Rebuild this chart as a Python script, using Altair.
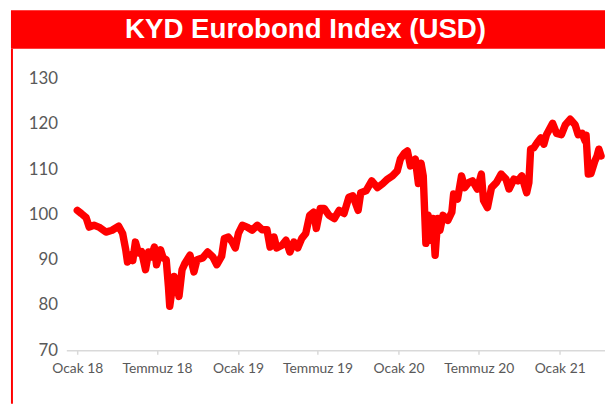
import altair as alt
import pandas as pd

# ---- data ----
dates = [
    "2018-01-01", "2018-01-10", "2018-01-21", "2018-01-28", "2018-02-08", "2018-02-19",
    "2018-03-07", "2018-03-21", "2018-04-05", "2018-04-14", "2018-04-21", "2018-04-25",
    "2018-05-02", "2018-05-07", "2018-05-13", "2018-05-20", "2018-05-27", "2018-06-05",
    "2018-06-12", "2018-06-18", "2018-06-25", "2018-06-30", "2018-07-09", "2018-07-15",
    "2018-07-22", "2018-07-27", "2018-07-30", "2018-08-05", "2018-08-09", "2018-08-13",
    "2018-08-20", "2018-08-27", "2018-09-03", "2018-09-14", "2018-09-23", "2018-09-30",
    "2018-10-13", "2018-10-24", "2018-11-05", "2018-11-14", "2018-11-25", "2018-12-01",
    "2018-12-10", "2018-12-19", "2018-12-26", "2019-01-02", "2019-01-11", "2019-01-22",
    "2019-02-02", "2019-02-14", "2019-02-25", "2019-03-08", "2019-03-15", "2019-03-24",
    "2019-03-30", "2019-04-11", "2019-04-20", "2019-04-29", "2019-05-08", "2019-05-17",
    "2019-05-26", "2019-06-04", "2019-06-13", "2019-06-22", "2019-06-28", "2019-07-07",
    "2019-07-16", "2019-07-27", "2019-08-08", "2019-08-19", "2019-08-30", "2019-09-10",
    "2019-09-19", "2019-10-01", "2019-10-07", "2019-10-19", "2019-11-01", "2019-11-14",
    "2019-11-26", "2019-12-07", "2019-12-18", "2019-12-29", "2020-01-05", "2020-01-14",
    "2020-01-21", "2020-01-28", "2020-02-03", "2020-02-08", "2020-02-15", "2020-02-21",
    "2020-02-26", "2020-03-03", "2020-03-08", "2020-03-15", "2020-03-19", "2020-03-24",
    "2020-03-30", "2020-04-04", "2020-04-11", "2020-04-22", "2020-05-01", "2020-05-05",
    "2020-05-14", "2020-05-23", "2020-05-30", "2020-06-08", "2020-06-17", "2020-06-28",
    "2020-07-07", "2020-07-12", "2020-07-21", "2020-07-30", "2020-08-10", "2020-08-21",
    "2020-09-01", "2020-09-08", "2020-09-19", "2020-09-28", "2020-10-07", "2020-10-18",
    "2020-10-23", "2020-10-27", "2020-11-03", "2020-11-10", "2020-11-19", "2020-11-26",
    "2020-12-02", "2020-12-16", "2020-12-25", "2021-01-05", "2021-01-14", "2021-01-25",
    "2021-02-05", "2021-02-12", "2021-02-21", "2021-02-28", "2021-03-02", "2021-03-07",
    "2021-03-13", "2021-03-22", "2021-03-27", "2021-03-31", "2021-04-05",
]
values = [
    100.9, 100.2, 99.3, 97.2, 97.6, 97.2,
    96.1, 96.5, 97.4, 95.8, 92.2, 89.5,
    91.0, 89.8, 93.9, 91.5, 91.8, 87.8,
    91.7, 90.6, 92.8, 88.9, 92.2, 90.4,
    90.0, 84.1, 79.7, 84.0, 86.3, 85.2,
    81.9, 87.8, 89.3, 91.0, 87.3, 90.0,
    90.4, 91.7, 90.6, 88.9, 90.8, 94.7,
    95.0, 93.9, 92.6, 95.8, 97.6, 97.2,
    96.5, 97.6, 96.6, 96.6, 92.8, 95.0,
    92.6, 93.2, 94.3, 91.7, 93.9, 92.6,
    94.7, 95.8, 99.8, 100.5, 96.9, 101.3,
    101.3, 99.8, 99.1, 100.9, 100.2, 103.8,
    104.1, 100.9, 104.8, 105.2, 107.4, 105.9,
    106.8, 107.8, 108.5, 109.6, 112.2, 113.5,
    114.0, 110.7, 111.8, 112.2, 106.8, 111.3,
    108.5, 93.6, 99.8, 94.3, 99.1, 91.0,
    99.1, 96.5, 99.8, 98.7, 100.5, 104.5,
    103.4, 108.5, 105.9, 107.0, 107.4, 105.6,
    108.9, 103.1, 101.5, 105.9, 107.0, 108.9,
    107.8, 105.6, 107.8, 107.4, 108.5, 104.8,
    107.0, 114.4, 114.7, 115.7, 116.9, 115.5,
    117.6, 120.1, 117.9, 117.6, 119.8, 121.0,
    119.8, 117.6, 117.9, 116.2, 117.5, 108.9,
    109.0, 111.8, 112.9, 114.4, 112.9,
]
x_tick_dates = [(2018, 1), (2018, 7), (2019, 1), (2019, 7), (2020, 1), (2020, 7), (2021, 1)]
y_ticks = [70, 80, 90, 100, 110, 120, 130]
title_text = "KYD Eurobond Index (USD)"

df = pd.DataFrame({"date": dates, "value": values})

# ---- layout (pixels) ----
W, H = 545, 275
PAD_L, PAD_T, PAD_R, PAD_B = 59, 69, 0, 54
RED = "#FF0000"
GRAY = "#595959"

x_axis = alt.Axis(
    values=[alt.DateTime(year=y, month=m, date=1) for y, m in x_tick_dates],
    labelExpr="(month(datum.value) == 0 ? 'Ocak ' : 'Temmuz ') + timeFormat(datum.value, '%y')",
    title=None, grid=False, domainColor="#D9D9D9", domainWidth=1.5,
    tickColor="#D9D9D9", tickSize=4, tickWidth=1.5,
    labelFont="Lato", labelFontSize=14, labelColor=GRAY, labelPadding=7,
    labelFlush=False, labelOverlap=False,
)
y_axis = alt.Axis(
    values=y_ticks, title=None, grid=False, domain=False, ticks=False,
    labelFont="Lato", labelFontSize=17, labelColor=GRAY, labelPadding=9,
)

line = alt.Chart(df).mark_line(
    color=RED, strokeWidth=7.5, strokeJoin="round", strokeCap="round"
).encode(
    x=alt.X("date:T", scale=alt.Scale(domain=[alt.DateTime(year=2017, month=12, date=7),
                                              alt.DateTime(year=2021, month=4, date=14)]),
            axis=x_axis),
    y=alt.Y("value:Q", scale=alt.Scale(domain=[70, 130]), axis=y_axis),
)

one = pd.DataFrame({"t": [title_text]})

band = alt.Chart(one).mark_rect(color=RED).encode(
    x=alt.value(-56), x2=alt.value(W), y=alt.value(-PAD_T), y2=alt.value(-30)
)
left_line = alt.Chart(one).mark_rect(color=RED).encode(
    x=alt.value(-56), x2=alt.value(-54), y=alt.value(-30), y2=alt.value(H + PAD_B)
)
title = alt.Chart(one).mark_text(
    color="white", font="Liberation Sans", fontWeight="bold", fontSize=28,
    align="center", baseline="middle"
).encode(x=alt.value(242), y=alt.value(-49), text="t:N")

chart = alt.layer(band, left_line, title, line).properties(
    width=W, height=H,
    autosize=alt.AutoSizeParams(type="none"),
    padding={"left": PAD_L, "top": PAD_T, "right": PAD_R, "bottom": PAD_B},
).configure_view(stroke=None)

chart.save("out.html", embed_options={"renderer": "svg", "actions": False})
